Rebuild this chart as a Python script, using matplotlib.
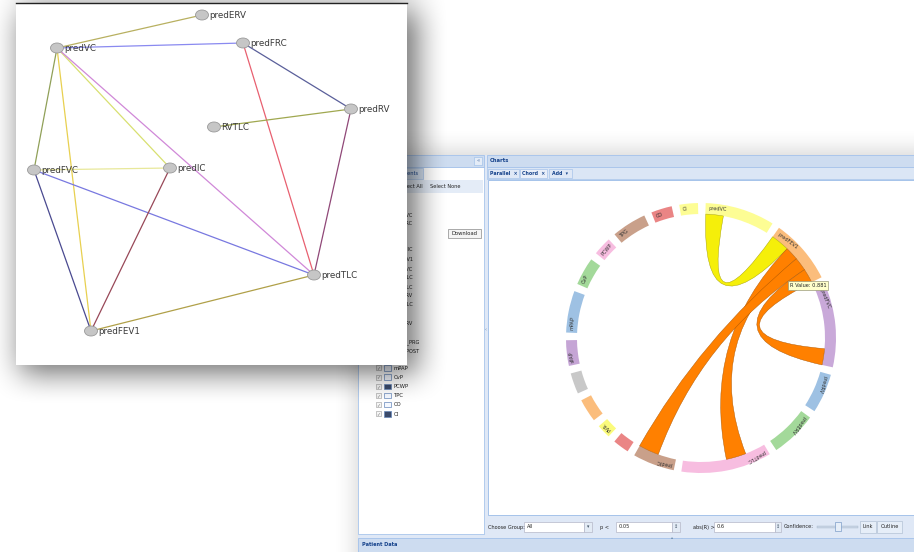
import numpy as np
import matplotlib
matplotlib.use("Agg")
import matplotlib.pyplot as plt
from matplotlib.patches import Rectangle, Ellipse, Wedge, PathPatch
from matplotlib.path import Path

W, H = 914, 552

# network graph (left picture)
node_names = ["predERV", "predVC", "predFRC", "predRV", "RVTLC",
              "predFVC", "predIC", "predTLC", "predFEV1"]
node_x = [202, 57, 243, 351, 214, 34, 170, 314, 91]
node_y = [15, 48, 43, 109, 127, 170, 168, 275, 331]
edge_a = ["predVC", "predVC", "predFRC", "predFRC", "RVTLC", "predRV", "predVC", "predVC",
          "predVC", "predVC", "predFVC", "predFVC", "predFVC", "predIC", "predFEV1"]
edge_b = ["predERV", "predFRC", "predRV", "predTLC", "predRV", "predTLC", "predFVC", "predFEV1",
          "predIC", "predTLC", "predIC", "predTLC", "predFEV1", "predFEV1", "predTLC"]
edge_colors = ["#b8b060", "#8a8af0", "#5a5f9a", "#e86070", "#a0a850", "#904878", "#90a058",
               "#e8d050", "#d8e070", "#d088d8", "#e8e89a", "#7878e0", "#4a4a90", "#984858",
               "#b0a048"]

# chord diagram (right picture)
group_names = ["predVC", "predFEV1", "predFVC", "predRV", "predERV", "predTLC", "predIC",
               "", "PVR", "", "", "sPAP", "mPAP", "CvP", "PCWP", "TPG", "CO", "CI"]
group_values = [30, 28, 36, 17, 20, 39, 18, 7, 6, 10, 9, 11, 18, 12, 8, 15, 9, 8]
group_colors = ["#fdfd94", "#fbbd7c", "#c9a9d9", "#9ec1e3", "#a3d99a", "#f7bde0", "#c9a08a",
                "#ea8585", "#fbfb7c", "#fbbd7c", "#c8c8c8", "#c5a5d5", "#9ec1e3", "#a3d99a",
                "#f7bde0", "#c9a08a", "#ea8585", "#fdfd94"]
ribbon_src = ["predVC", "predFEV1", "predFEV1", "predFEV1"]
ribbon_dst = ["predFEV1", "predTLC", "predIC", "predFVC"]
ribbon_src_from = [0.2, 8.7, 15.0, 21.3]
ribbon_src_to = [8.4, 15.0, 21.3, 28.0]
ribbon_dst_from = [0.0, 9.5, 8.5, 28.4]
ribbon_dst_to = [8.7, 18.8, 18.0, 36.0]
ribbon_colors = ["#f5ef0a", "#ff8000", "#ff8000", "#ff8000"]
tooltip_text = "R Value: 0.881"

# app side panel
checkbox_items = ["mPAP", "CvP", "PCWP", "TPC", "CO", "CI"]
checkbox_dark = [False, False, True, False, False, True]
hidden_items = ["predVC", "predFRC", "predIC", "predFEV1", "predFVC", "predTLC",
                "predDLC", "predRV", "RVTLC", "predERV", "FEV1_PRG", "FEV1_POST"]
hidden_rows = [215, 224, 250, 260, 269, 278, 287, 296, 305, 323, 342, 351]


def box_blur(a, k, axis):
    p = k // 2
    pad = [(p, p) if i == axis else (0, 0) for i in range(2)]
    a = np.pad(a, pad, mode="edge")
    c = np.cumsum(a, axis=axis)
    c = np.insert(c, 0, 0, axis=axis)
    if axis == 0:
        return (c[k:] - c[:-k]) / k
    return (c[:, k:] - c[:, :-k]) / k


def soft_shadow(x0, y0, x1, y1, k, strength):
    m = np.zeros((H, W))
    m[max(y0, 0):min(y1, H), max(x0, 0):min(x1, W)] = 1.0
    for _ in range(2):
        m = box_blur(m, k, 0)
        m = box_blur(m, k, 1)
    img = np.zeros((H, W, 4))
    img[..., 3] = m * strength
    return img


fig = plt.figure(figsize=(9.14, 5.52), dpi=100)
ax = fig.add_axes([0, 0, 1, 1])
ax.set_xlim(0, W)
ax.set_ylim(H, 0)
ax.axis("off")


def box(x0, y0, x1, y1, fc, ec="none", lw=0.5, z=2):
    ax.add_patch(Rectangle((x0, y0), x1 - x0, y1 - y0, fc=fc, ec=ec, lw=lw, zorder=z))


def label(x, y, s, size=3.8, color="#222222", z=4, **kw):
    ax.text(x, y, s, fontsize=size, color=color, zorder=z, va="center", **kw)


# ---- screenshot of the application ----
ax.imshow(soft_shadow(355, 150, 930, 570, 25, 0.16), extent=(0, W, H, 0),
          aspect="auto", zorder=1, interpolation="bilinear")
box(358, 155, W, H, "#dfe8f6", z=2)

# left panel
box(358, 155, 484, 167, "#cddcf0", "#99bbe8", z=2.5)
box(474, 157, 482, 165, "#e4ecf7", "#99bbe8", 0.4, z=2.6)
label(478, 161, "\u00ab", 4, "#5577aa", ha="center", z=2.7)
box(358, 167, 484, 534, "#ffffff", "#99bbe8", z=2.5)
box(360, 168, 423, 179, "#d6e3f3", "#99bbe8", 0.4, z=2.6)
label(419, 173.5, "Measurements", 3.6, "#15428b", ha="right", z=2.7)
box(359, 180, 483, 193, "#e4ecf7", z=2.6)
label(423, 186.5, "Select All", 3.6, ha="right", z=2.7)
label(430, 186.5, "Select None", 3.6, z=2.7)
box(448, 229, 481, 238, "#f4f4f4", "#8a8a8a", 0.5, z=2.6)
label(464.5, 233.5, "Download", 3.8, ha="center", z=2.7)
for name, yy in zip(hidden_items, hidden_rows):
    label(413 if "_" not in name else 420, yy, name, 3.6, ha="right", z=2.7)
for i, (name, dark) in enumerate(zip(checkbox_items, checkbox_dark)):
    yy = 368 + i * 9.2
    box(376, yy - 2.6, 381, yy + 2.4, "#f6f6f6", "#9a9a9a", 0.4, z=2.6)
    label(378.5, yy, "\u2713", 3.4, "#777777", ha="center", z=2.7)
    box(384, yy - 2.8, 391, yy + 2.6, "#3a4a6a" if dark else "#f4f8ff", "#6688bb", 0.5, z=2.6)
    label(394, yy, name, 3.8, z=2.7)

# splitter
label(485.5, 330, "\u2039", 3.5, "#6688aa", ha="center", z=2.7)

# chart panel
box(487, 155, W + 2, 167, "#cddcf0", "#99bbe8", z=2.5)
label(490, 161, "Charts", 3.8, "#15428b", fontweight="bold", z=2.7)
box(487, 167, W + 2, 179, "#dbe6f5", "#99bbe8", 0.4, z=2.5)
for x0, x1, s in [(488, 519, "Parallel  \u00d7"), (520, 547, "Chord  \u00d7"), (549, 572, "Add  \u25be")]:
    box(x0, 168.5, x1, 178, "#e9eff9" if s.startswith("Chord") else "#dfe8f6", "#99bbe8", 0.4, z=2.6)
    label((x0 + x1) / 2, 173.3, s, 3.4, "#15428b", ha="center", fontweight="bold", z=2.7)
box(488, 180, W + 2, 515, "#ffffff", "#99bbe8", 0.6, z=2.5)

# bottom tool bar
label(488, 527, "Choose Group:", 3.6, z=2.7)
box(524, 522, 584, 532, "#ffffff", "#b5b8c8", 0.5, z=2.6)
label(527, 527, "All", 3.6, z=2.7)
box(584, 522, 592, 532, "#e3ebf5", "#b5b8c8", 0.5, z=2.6)
label(588, 527, "\u25be", 3.4, "#445566", ha="center", z=2.7)
label(600, 527, "p <", 3.6, z=2.7)
box(616, 522, 672, 532, "#ffffff", "#b5b8c8", 0.5, z=2.6)
label(619, 527, "0.05", 3.6, z=2.7)
box(672, 522, 680, 532, "#e3ebf5", "#b5b8c8", 0.5, z=2.6)
label(676, 527, "\u2195", 3.6, "#445566", ha="center", z=2.7)
label(693, 527, "abs(R) >", 3.6, z=2.7)
box(714, 522, 775, 532, "#ffffff", "#b5b8c8", 0.5, z=2.6)
label(717, 527, "0.6", 3.6, z=2.7)
box(775, 522, 781, 532, "#e3ebf5", "#b5b8c8", 0.5, z=2.6)
label(778, 527, "\u2195", 3.6, "#445566", ha="center", z=2.7)
label(784, 527, "Confidence:", 3.6, z=2.7)
box(817, 526, 858, 528, "#c8d4e4", "#a8b8cc", 0.3, z=2.6)
box(835, 522, 841, 531, "#e6eef8", "#7d9dc8", 0.5, z=2.7)
box(860, 521, 876, 533, "#e6eef8", "#a8b8cc", 0.4, z=2.6)
label(868, 527, "Link", 3.6, ha="center", z=2.7)
box(877, 521, 902, 533, "#e6eef8", "#a8b8cc", 0.4, z=2.6)
label(889.5, 527, "Outline", 3.6, ha="center", z=2.7)
label(672, 537, "\u25b4", 3.0, "#6688aa", ha="center", z=2.7)

# patient data bar
box(358, 538, W + 2, H + 2, "#cddcf0", "#99bbe8", 0.5, z=2.6)
label(362, 544, "Patient Data", 3.6, "#15428b", fontweight="bold", z=2.7)

# ---- chord diagram ----
cx, cy = 701.0, 338.0
r_out, r_in = 135.0, 124.0
gap = 3.28
k = (360.0 - gap * len(group_values)) / sum(group_values)
starts = []
a = 2.0
for v in group_values:
    starts.append(a)
    a += v * k + gap


def arc_pt(theta, r):
    t = np.radians(theta)
    return cx + r * np.sin(t), cy - r * np.cos(t)


for name, v, col, s in zip(group_names, group_values, group_colors, starts):
    e = s + v * k
    ax.add_patch(Wedge((cx, cy), r_out, s - 90, e - 90, width=r_out - r_in,
                       fc=col, ec="none", zorder=5))
    if name:
        tx, ty = arc_pt(s + 1.2, (r_out + r_in) / 2)
        ax.text(tx, ty, name, fontsize=3.6, color="#333333", rotation=-(s + 1.2),
                rotation_mode="anchor", ha="left", va="center", zorder=6)


def ribbon(s0, s1, t0, t1, r):
    verts, codes = [], []
    for i, th in enumerate(np.linspace(s0, s1, 24)):
        verts.append(arc_pt(th, r))
        codes.append(Path.MOVETO if i == 0 else Path.LINETO)
    verts += [(cx, cy), arc_pt(t0, r)]
    codes += [Path.CURVE3, Path.CURVE3]
    for th in np.linspace(t0, t1, 24)[1:]:
        verts.append(arc_pt(th, r))
        codes.append(Path.LINETO)
    verts += [(cx, cy), arc_pt(s0, r), arc_pt(s0, r)]
    codes += [Path.CURVE3, Path.CURVE3, Path.CLOSEPOLY]
    return Path(verts, codes)


for src, dst, a0, a1, b0, b1, col in zip(ribbon_src, ribbon_dst, ribbon_src_from, ribbon_src_to,
                                         ribbon_dst_from, ribbon_dst_to, ribbon_colors):
    gs = starts[group_names.index(src)]
    gd = starts[group_names.index(dst)]
    p = ribbon(gs + a0 * k, gs + a1 * k, gd + b0 * k, gd + b1 * k, r_in)
    edge = "#a09a00" if col == "#f5ef0a" else "#a85400"
    ax.add_patch(PathPatch(p, fc=col, ec=edge, lw=0.3, zorder=7))

box(788, 281, 828, 290, "#ffffcc", "#9a9a7a", 0.5, z=8)
label(808, 285.5, tooltip_text, 3.6, "#222222", ha="center", z=9)

# ---- network graph picture with its drop shadow ----
ax.imshow(soft_shadow(20, 10, 418, 374, 33, 0.55), extent=(0, W, H, 0),
          aspect="auto", zorder=10, interpolation="bilinear")
box(16, 3, 407, 365, "#ffffff", z=11)
ax.plot([16, 407], [3, 3], color="#222222", lw=1.0, zorder=11.5)

pos = {n: (x, y) for n, x, y in zip(node_names, node_x, node_y)}
for na, nb, col in zip(edge_a, edge_b, edge_colors):
    ax.plot([pos[na][0], pos[nb][0]], [pos[na][1], pos[nb][1]], color=col, lw=0.9,
            solid_capstyle="round", zorder=12)
for n in node_names:
    x, y = pos[n]
    ax.add_patch(Ellipse((x, y), 13, 10, fc="#c6c6c6", ec="#9a9a9a", lw=0.6, zorder=13))
    ax.text(x + 7.5, y + 0.5, n, fontsize=6.3, color="#3a3a3a", ha="left", va="center", zorder=14)

fig.savefig("out.png", dpi=100)
